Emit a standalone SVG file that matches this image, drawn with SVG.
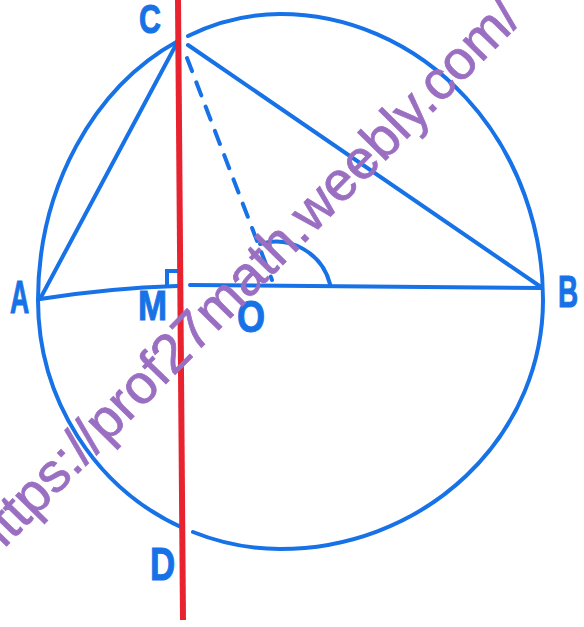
<svg xmlns="http://www.w3.org/2000/svg" width="584" height="627" viewBox="0 0 584 627">
<style>
.ln{fill:none;stroke:#1672e6;stroke-width:4;stroke-linecap:round}
.lbl{font-family:"Liberation Sans",Arial,sans-serif;font-weight:bold;fill:#1672e6;stroke:#1672e6;stroke-width:1}
.wm{font-family:"Liberation Sans",Arial,sans-serif;font-size:55px;fill:#9a6fc2;stroke:#9a6fc2;stroke-width:0.8}
</style>
<rect width="584" height="627" fill="#ffffff"/>
<g id="circle">
<path class="ln" d="M178,41 A242,286 0 0 0 38,300 A242,249 0 0 0 183,528"/>
<path class="ln" d="M193,532 A242,249 0 0 0 280,549 A263,249 0 0 0 543,300 A263,286 0 0 0 280,14 A242,286 0 0 0 188,36"/>
</g>
<g id="connectors">
<path class="ln" d="M40,299 L178,41"/>
<path class="ln" d="M188,45 L541,287"/>
<path class="ln" d="M40,299 Q110,288 177,286"/>
<path class="ln" d="M190,285 L542,288"/>
<path class="ln" d="M187,58 L272,280" stroke-dasharray="14 12" stroke-width="3"/>
<path class="ln" d="M167,285 V271 H178" stroke-width="3"/>
<path class="ln" d="M260,244 A56,56 0 0 1 330,284" stroke-width="3"/>
</g>
<g id="perpendicular">
<line x1="178" y1="0" x2="183" y2="620" stroke="#e8222e" stroke-width="6"/>
</g>
<g id="labels">
<text class="lbl" font-size="40" transform="translate(139,33) scale(0.76,1)">C</text>
<text class="lbl" font-size="46" transform="translate(10,313) scale(0.58,1)">A</text>
<text class="lbl" font-size="45" transform="translate(558,307) scale(0.62,1)">B</text>
<text class="lbl" font-size="42" transform="translate(138,320) scale(0.83,1)">M</text>
<text class="lbl" font-size="44" transform="translate(237,332) scale(0.82,1)">O</text>
<text class="lbl" font-size="46" transform="translate(150,580) scale(0.76,1)">D</text>
</g>
<g id="watermark">
<text class="wm" transform="translate(-9,562) rotate(-45.5)">https://prof27math.weebly.com/</text>
</g>
</svg>
